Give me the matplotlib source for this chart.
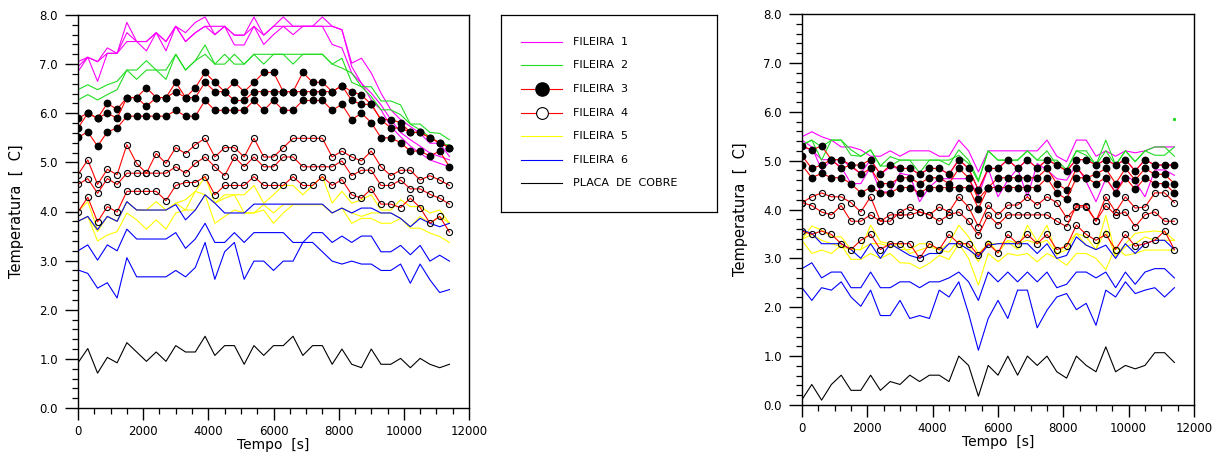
#!/usr/bin/env python3
"""Temperaturas das fileiras de tubos e da placa de cobre - dois ensaios."""

import numpy as np
import matplotlib
matplotlib.use("Agg")
import matplotlib.pyplot as plt
from matplotlib.lines import Line2D

# leituras a cada 300 s
tempo_s = np.arange(0, 11401, 300)

# ---------------- ensaio 1 (grafico da esquerda) ----------------
esq_fileira1 = [
    [7.05, 7.14, 7.05, 7.33, 7.22, 7.85, 7.46, 7.46, 7.64, 7.46, 7.77, 7.64, 7.85, 7.96, 7.60, 7.77, 7.59, 7.59, 7.96, 7.59,
     7.77, 7.96, 7.77, 7.77, 7.77, 7.96, 7.77, 7.70, 7.02, 7.12, 6.82, 6.41, 6.07, 5.87, 5.73, 5.59, 5.39, 5.39, 5.12],
    [6.85, 7.14, 6.65, 7.22, 7.22, 7.64, 7.46, 7.27, 7.64, 7.27, 7.77, 7.46, 7.64, 7.77, 7.60, 7.77, 7.39, 7.39, 7.77, 7.40,
     7.60, 7.77, 7.60, 7.77, 7.77, 7.77, 7.40, 7.33, 6.82, 6.61, 6.27, 6.07, 5.73, 5.52, 5.33, 5.19, 5.05, 4.98, 4.91],
    [6.95, 7.14, 7.05, 7.22, 7.22, 7.46, 7.46, 7.46, 7.64, 7.46, 7.77, 7.46, 7.64, 7.77, 7.77, 7.77, 7.59, 7.59, 7.77, 7.59,
     7.77, 7.77, 7.77, 7.77, 7.77, 7.77, 7.77, 7.70, 6.95, 6.61, 6.41, 6.17, 5.87, 5.61, 5.46, 5.33, 5.19, 5.12, 5.05],
]
esq_fileira2 = [
    [6.48, 6.58, 6.48, 6.58, 6.65, 6.88, 6.88, 7.07, 6.88, 6.88, 7.20, 6.88, 7.07, 7.39, 7.00, 7.20, 7.00, 7.00, 7.20, 7.20,
     7.20, 7.20, 7.20, 7.20, 7.20, 7.20, 7.00, 7.12, 6.63, 6.54, 6.54, 6.25, 6.25, 6.17, 5.78, 5.78, 5.61, 5.59, 5.46],
    [6.27, 6.38, 6.27, 6.38, 6.48, 6.88, 6.69, 6.88, 6.88, 6.69, 7.20, 6.88, 7.07, 7.20, 7.00, 7.00, 7.20, 7.00, 7.20, 7.00,
     7.20, 7.20, 7.00, 7.20, 7.20, 7.20, 7.00, 6.92, 6.82, 6.54, 6.34, 6.07, 6.07, 5.97, 5.78, 5.66, 5.52, 5.39, 5.35],
]
esq_fileira3 = [
    [5.90, 6.00, 5.90, 6.20, 6.08, 6.32, 6.32, 6.52, 6.32, 6.32, 6.63, 6.32, 6.52, 6.83, 6.63, 6.44, 6.63, 6.44, 6.63, 6.83,
     6.83, 6.44, 6.44, 6.83, 6.63, 6.63, 6.44, 6.56, 6.44, 6.37, 6.18, 5.87, 5.87, 5.81, 5.61, 5.61, 5.50, 5.40, 5.30],
    [5.70, 6.00, 5.90, 6.00, 5.90, 6.32, 6.32, 6.14, 6.32, 6.32, 6.44, 6.32, 6.32, 6.63, 6.44, 6.44, 6.26, 6.26, 6.44, 6.44,
     6.44, 6.44, 6.44, 6.44, 6.44, 6.44, 6.44, 6.56, 6.26, 6.18, 6.18, 5.87, 5.70, 5.70, 5.61, 5.61, 5.50, 5.40, 5.30],
    [5.51, 5.62, 5.33, 5.62, 5.70, 5.94, 5.94, 5.94, 5.94, 5.94, 6.06, 5.94, 5.94, 6.26, 6.06, 6.06, 6.06, 6.06, 6.26, 6.06,
     6.26, 6.06, 6.06, 6.26, 6.26, 6.26, 6.06, 6.18, 5.87, 6.00, 5.81, 5.50, 5.50, 5.40, 5.23, 5.23, 5.13, 5.23, 4.91],
]
esq_fileira4 = [
    [4.75, 5.05, 4.55, 4.86, 4.75, 5.36, 4.98, 4.78, 5.18, 4.98, 5.30, 5.18, 5.36, 5.49, 5.11, 5.30, 5.30, 5.11, 5.49, 5.11,
     5.11, 5.30, 5.49, 5.49, 5.49, 5.49, 5.11, 5.23, 5.11, 5.03, 5.23, 4.91, 4.73, 4.84, 4.84, 4.64, 4.73, 4.64, 4.53],
    [4.55, 4.67, 4.37, 4.67, 4.55, 4.78, 4.78, 4.78, 4.78, 4.78, 4.91, 4.78, 4.98, 5.11, 4.91, 4.73, 5.11, 4.91, 5.11, 4.91,
     4.91, 5.11, 5.11, 4.91, 4.91, 4.91, 4.91, 5.03, 4.73, 4.84, 4.84, 4.53, 4.53, 4.64, 4.46, 4.46, 4.35, 4.27, 4.15],
    [3.99, 4.29, 3.79, 4.10, 3.99, 4.41, 4.41, 4.41, 4.41, 4.22, 4.53, 4.59, 4.59, 4.71, 4.34, 4.53, 4.53, 4.53, 4.71, 4.53,
     4.53, 4.53, 4.71, 4.53, 4.53, 4.71, 4.53, 4.65, 4.34, 4.27, 4.46, 4.15, 4.15, 4.08, 4.27, 4.08, 3.76, 3.90, 3.58],
]
esq_fileira5 = [
    [4.00, 4.20, 3.63, 3.90, 3.80, 4.20, 4.03, 4.03, 4.20, 4.03, 4.17, 4.03, 4.41, 4.71, 4.17, 4.34, 4.34, 4.34, 4.53, 4.17,
     4.34, 4.53, 4.53, 4.34, 4.53, 4.71, 4.17, 4.41, 4.17, 4.24, 4.34, 4.03, 4.03, 4.24, 4.10, 4.10, 3.97, 4.03, 3.76],
    [3.80, 3.90, 3.59, 3.90, 3.80, 4.20, 4.03, 4.03, 4.03, 4.03, 4.17, 4.24, 4.41, 4.34, 4.17, 4.27, 4.34, 3.97, 3.97, 4.14,
     3.97, 4.14, 4.14, 4.14, 4.14, 4.14, 3.97, 4.07, 3.97, 3.90, 3.97, 3.97, 3.97, 3.86, 3.69, 3.90, 3.76, 3.90, 3.76],
    [3.80, 3.90, 3.40, 3.52, 3.59, 3.97, 3.83, 3.64, 3.83, 3.64, 3.97, 4.03, 4.03, 4.34, 3.76, 3.90, 4.03, 3.97, 3.97, 4.03,
     3.76, 3.97, 4.14, 4.14, 4.14, 4.14, 3.97, 4.07, 3.76, 3.86, 3.86, 3.76, 3.76, 3.86, 3.66, 3.66, 3.56, 3.49, 3.37],
]
esq_fileira6 = [
    [3.80, 3.90, 3.63, 3.90, 3.80, 4.20, 4.03, 4.03, 4.03, 4.03, 4.14, 3.83, 4.03, 4.34, 4.17, 3.97, 3.97, 3.97, 4.15, 4.15,
     4.15, 4.15, 4.15, 4.15, 4.15, 4.15, 3.97, 4.07, 3.97, 4.07, 4.07, 3.97, 3.97, 3.86, 3.69, 3.86, 3.76, 3.69, 3.76],
    [3.20, 3.32, 3.01, 3.32, 3.20, 3.64, 3.44, 3.44, 3.44, 3.44, 3.57, 3.25, 3.44, 3.76, 3.37, 3.37, 3.57, 3.37, 3.57, 3.57,
     3.57, 3.57, 3.37, 3.37, 3.57, 3.57, 3.37, 3.50, 3.37, 3.50, 3.50, 3.18, 3.18, 3.31, 3.12, 3.31, 2.99, 3.11, 2.99],
    [2.81, 2.74, 2.44, 2.55, 2.24, 3.06, 2.67, 2.67, 2.67, 2.67, 2.80, 2.67, 2.86, 3.37, 2.62, 3.18, 3.37, 2.62, 2.99, 2.99,
     2.80, 2.99, 2.99, 3.37, 3.37, 3.18, 2.99, 2.93, 2.99, 2.93, 2.93, 2.80, 2.80, 2.93, 2.54, 2.93, 2.61, 2.35, 2.41],
]
esq_placa = [0.92, 1.21, 0.71, 1.03, 0.92, 1.33, 1.14, 0.95, 1.14, 0.95, 1.27, 1.14, 1.14, 1.46, 1.07, 1.27, 1.27, 0.89, 1.27,
             1.07, 1.27, 1.27, 1.46, 1.07, 1.27, 1.27, 0.89, 1.20, 0.89, 0.82, 1.20, 0.89, 0.89, 1.01, 0.82, 1.01, 0.89, 0.82, 0.89]

# ---------------- ensaio 2 (grafico da direita) ----------------
dir_fileira1 = [
    [5.49, 5.59, 5.49, 5.42, 5.28, 5.28, 5.22, 5.09, 5.09, 5.20, 5.09, 5.20, 5.20, 5.20, 5.09, 5.09, 5.42, 5.20, 4.77, 5.20,
     5.20, 5.20, 5.20, 5.20, 5.20, 5.42, 5.09, 4.98, 5.42, 5.42, 5.09, 5.20, 5.09, 5.20, 5.16, 5.20, 5.28, 5.28, 5.28],
    [5.42, 5.28, 4.81, 5.01, 4.87, 4.53, 4.53, 4.87, 4.36, 4.36, 4.74, 4.70, 4.16, 4.46, 4.63, 4.63, 4.63, 4.63, 4.29, 4.84,
     4.26, 4.60, 4.84, 4.26, 4.94, 4.81, 4.63, 4.60, 4.91, 4.57, 4.16, 4.63, 4.36, 4.70, 4.57, 4.26, 4.81, 4.81, 4.70],
    [5.28, 5.22, 5.02, 5.02, 5.02, 4.87, 4.74, 5.02, 4.72, 4.87, 4.84, 4.84, 4.72, 4.84, 4.84, 4.72, 5.02, 4.84, 4.40, 4.84,
     4.84, 5.02, 4.84, 5.02, 4.84, 5.02, 4.91, 4.79, 5.02, 5.02, 4.91, 5.02, 4.91, 5.02, 4.79, 5.02, 4.91, 4.91, 4.91],
]
dir_fileira2 = [
    [5.32, 5.42, 5.01, 5.42, 5.42, 5.22, 5.09, 5.22, 4.89, 5.08, 5.01, 5.01, 4.75, 5.01, 5.01, 4.91, 5.22, 5.01, 4.60, 5.20,
     5.01, 5.01, 5.01, 5.20, 5.01, 5.20, 4.91, 4.81, 5.20, 5.20, 4.91, 5.42, 4.91, 5.20, 4.98, 5.20, 5.28, 5.28, 5.09],
    [5.32, 5.42, 5.28, 5.42, 5.42, 5.11, 5.09, 5.22, 4.89, 4.89, 5.01, 5.01, 5.01, 5.01, 5.01, 5.01, 5.11, 4.94, 4.57, 5.20,
     5.01, 5.01, 5.01, 5.20, 5.01, 5.01, 5.01, 4.81, 5.20, 5.11, 4.91, 5.20, 4.91, 5.20, 4.98, 5.20, 5.11, 5.11, 5.28],
]
dir_fileira2_ponto = (11400, 5.86)  # ponto isolado no canto
dir_fileira3 = [
    [5.30, 5.22, 5.30, 5.02, 5.02, 4.91, 4.91, 5.02, 4.72, 4.91, 4.84, 4.84, 4.72, 4.84, 4.84, 4.72, 5.02, 4.84, 4.40, 4.84,
     4.84, 5.02, 4.84, 5.02, 4.84, 5.02, 4.91, 4.79, 5.02, 5.02, 4.91, 5.02, 4.91, 5.02, 4.79, 5.02, 4.91, 4.91, 4.91],
    [5.10, 4.84, 4.91, 5.02, 4.84, 4.91, 4.72, 4.84, 4.53, 4.53, 4.65, 4.65, 4.53, 4.65, 4.65, 4.53, 4.84, 4.65, 4.21, 4.45,
     4.65, 4.65, 4.65, 4.65, 4.65, 4.84, 4.53, 4.40, 4.84, 4.65, 4.72, 4.84, 4.53, 4.84, 4.60, 4.84, 4.72, 4.72, 4.53],
    [4.91, 4.65, 4.74, 4.65, 4.65, 4.53, 4.34, 4.45, 4.34, 4.34, 4.45, 4.45, 4.34, 4.45, 4.45, 4.45, 4.45, 4.45, 4.02, 4.45,
     4.45, 4.45, 4.45, 4.45, 4.45, 4.65, 4.34, 4.21, 4.65, 4.65, 4.53, 4.65, 4.34, 4.65, 4.41, 4.65, 4.53, 4.53, 4.34],
]
dir_fileira4 = [
    [4.14, 4.26, 4.34, 4.26, 4.26, 4.14, 3.95, 4.26, 3.76, 3.76, 3.95, 4.05, 3.95, 3.89, 4.05, 3.95, 4.26, 4.05, 3.65, 4.09,
     3.89, 4.09, 4.09, 4.26, 4.09, 4.26, 4.14, 3.83, 4.05, 4.05, 3.76, 4.26, 3.95, 4.26, 4.03, 4.05, 4.34, 4.34, 4.14],
    [4.14, 4.08, 3.95, 3.89, 4.08, 3.76, 3.76, 3.89, 3.76, 3.89, 3.89, 3.89, 3.95, 3.89, 3.76, 3.89, 3.95, 3.76, 3.47, 3.89,
     3.69, 3.89, 3.89, 3.89, 3.89, 3.89, 3.76, 3.65, 4.08, 4.08, 3.76, 4.08, 3.89, 3.95, 3.65, 3.89, 3.95, 3.76, 3.76],
    [3.56, 3.49, 3.56, 3.49, 3.30, 3.18, 3.37, 3.49, 3.18, 3.30, 3.30, 3.30, 3.00, 3.30, 3.18, 3.49, 3.30, 3.30, 3.06, 3.30,
     3.11, 3.49, 3.30, 3.49, 3.30, 3.49, 3.18, 3.25, 3.68, 3.49, 3.37, 3.49, 3.18, 3.49, 3.25, 3.30, 3.37, 3.56, 3.18],
]
dir_fileira5 = [
    [3.39, 3.66, 3.58, 3.44, 3.44, 3.18, 3.18, 3.68, 3.34, 3.30, 3.18, 3.18, 3.30, 3.30, 3.18, 3.30, 3.68, 3.44, 3.10, 3.30,
     3.30, 3.34, 3.18, 3.68, 3.34, 3.68, 3.06, 3.30, 3.51, 3.27, 3.18, 3.88, 3.06, 3.30, 3.51, 3.54, 3.56, 3.54, 3.37],
    [3.39, 3.49, 3.37, 3.30, 3.24, 3.18, 3.18, 3.30, 3.30, 3.24, 3.30, 3.10, 3.17, 3.24, 3.17, 3.13, 3.37, 3.24, 2.93, 3.37,
     3.11, 3.37, 3.30, 3.37, 3.30, 3.37, 3.10, 3.17, 3.51, 3.44, 3.18, 3.58, 3.03, 3.24, 3.30, 3.44, 3.37, 3.37, 3.37],
    [3.37, 3.10, 3.17, 3.10, 3.27, 2.98, 2.98, 3.10, 3.00, 3.10, 2.91, 2.90, 2.79, 2.90, 3.06, 2.98, 3.30, 3.00, 2.45, 3.10,
     2.93, 3.10, 3.06, 3.10, 2.93, 3.10, 3.00, 2.86, 3.10, 3.10, 3.00, 2.77, 3.24, 3.06, 3.10, 3.17, 3.17, 3.17, 3.17],
]
dir_fileira6 = [
    [3.58, 3.51, 3.30, 3.30, 3.30, 3.18, 3.00, 3.30, 3.00, 3.30, 3.18, 3.06, 3.00, 3.10, 3.10, 3.30, 3.30, 3.18, 3.03, 3.27,
     3.30, 3.30, 3.30, 3.30, 3.10, 3.30, 3.00, 3.06, 3.44, 3.27, 3.18, 3.27, 3.00, 3.30, 3.10, 3.30, 3.37, 3.37, 3.18],
    [2.79, 2.91, 2.60, 2.72, 2.72, 2.40, 2.40, 2.72, 2.40, 2.40, 2.52, 2.52, 2.40, 2.52, 2.52, 2.60, 2.72, 2.52, 2.14, 2.72,
     2.52, 2.72, 2.52, 2.72, 2.52, 2.72, 2.40, 2.47, 2.72, 2.72, 2.60, 2.72, 2.40, 2.72, 2.47, 2.72, 2.79, 2.79, 2.60],
    [2.40, 2.14, 2.40, 2.35, 2.52, 2.21, 2.02, 2.35, 1.83, 1.83, 2.14, 1.77, 1.83, 1.77, 2.35, 2.21, 2.52, 1.87, 1.12, 1.77,
     2.14, 1.77, 2.35, 2.35, 1.58, 1.94, 2.21, 2.28, 1.95, 2.08, 1.63, 2.35, 2.21, 2.52, 2.28, 2.35, 2.40, 2.21, 2.40],
]
dir_placa = [0.11, 0.42, 0.10, 0.42, 0.61, 0.30, 0.30, 0.61, 0.30, 0.48, 0.42, 0.61, 0.48, 0.61, 0.61, 0.48, 1.00, 0.81, 0.18,
             0.81, 0.61, 1.00, 0.61, 1.00, 0.81, 1.00, 0.68, 0.55, 1.00, 0.81, 0.68, 1.19, 0.68, 0.81, 0.74, 0.81, 1.07, 1.07, 0.87]

legend_labels = ["FILEIRA  1", "FILEIRA  2", "FILEIRA  3", "FILEIRA  4", "FILEIRA  5", "FILEIRA  6", "PLACA  DE  COBRE"]

MAGENTA = "#ff00ff"
GREEN = "#22dd22"
RED = "#ff0000"
YELLOW = "#ffff00"
BLUE = "#0000ff"
LW = 0.8

plt.rcParams["font.family"] = ["DejaVu Sans"]


def draw_panel(ax, f1, f2, f3, f4, f5, f6, placa):
    for serie in f1:
        ax.plot(tempo_s, serie, color=MAGENTA, lw=LW)
    for serie in f2:
        ax.plot(tempo_s, serie, color=GREEN, lw=LW)
    for serie in f5:
        ax.plot(tempo_s, serie, color=YELLOW, lw=LW)
    for serie in f6:
        ax.plot(tempo_s, serie, color=BLUE, lw=LW)
    ax.plot(tempo_s, placa, color="black", lw=LW)
    for serie in f3:
        ax.plot(tempo_s, serie, color=RED, lw=LW, marker="o", ms=4.6, mfc="black", mec="black")
    for serie in f4:
        ax.plot(tempo_s, serie, color=RED, lw=LW, marker="o", ms=4.4, mfc="none", mec="black", mew=0.8)

    ax.set_xlim(0, 12000)
    ax.set_ylim(0, 8)
    ax.set_xticks(np.arange(0, 12001, 2000))
    ax.set_xticks(np.arange(0, 12001, 500), minor=True)
    ax.set_yticks(np.arange(0, 8.01, 1.0))
    ax.set_yticks(np.arange(0, 8.01, 0.2), minor=True)
    ax.yaxis.set_major_formatter(plt.FormatStrFormatter("%.1f"))
    ax.tick_params(axis="y", which="major", direction="out", length=9.5, width=1.0, labelsize=8.5, pad=5)
    ax.tick_params(axis="y", which="minor", direction="out", length=4.5, width=0.9)
    ax.tick_params(axis="x", which="major", direction="out", length=8.5, width=1.0, labelsize=8.5, pad=4)
    ax.tick_params(axis="x", which="minor", direction="out", length=4.5, width=0.9)
    for spine in ax.spines.values():
        spine.set_linewidth(1.0)
    ax.set_xlabel("Tempo  [s]", fontsize=10, labelpad=0)
    ax.set_ylabel("Temperatura  [  C]", fontsize=10.5, labelpad=11)


def draw_legend(fig):
    lax = fig.add_axes([501 / 1218, 1 - 212 / 457, 216 / 1218, 197 / 457])
    lax.set_xlim(0, 1)
    lax.set_ylim(0, 1)
    lax.set_xticks([])
    lax.set_yticks([])
    for spine in lax.spines.values():
        spine.set_linewidth(0.9)
    styles = [
        dict(color=MAGENTA),
        dict(color=GREEN),
        dict(color=RED, marker="o", ms=9.5, mfc="black", mec="black"),
        dict(color=RED, marker="o", ms=8.5, mfc="white", mec="black", mew=0.8),
        dict(color=YELLOW),
        dict(color=BLUE),
        dict(color="black"),
    ]
    rows = [0.863, 0.746, 0.624, 0.503, 0.386, 0.264, 0.147]
    for y, label, st in zip(rows, legend_labels, styles):
        lax.add_line(Line2D([0.093, 0.282], [y, y], lw=LW, markevery=[], **st))
        if "marker" in st:
            lax.add_line(Line2D([0.1875], [y], lw=0, marker=st["marker"], ms=st["ms"],
                                mfc=st["mfc"], mec=st["mec"], mew=st.get("mew", 1.0)))
        lax.text(0.333, y, label, fontsize=8, va="center", ha="left")


def main():
    fig = plt.figure(figsize=(12.18, 4.57), dpi=100)
    ax_esq = fig.add_axes([78 / 1218, 1 - 408 / 457, 391 / 1218, 393 / 457])
    ax_dir = fig.add_axes([802 / 1218, 1 - 405 / 457, 392 / 1218, 391 / 457])

    draw_panel(ax_esq, esq_fileira1, esq_fileira2, esq_fileira3, esq_fileira4,
               esq_fileira5, esq_fileira6, esq_placa)
    draw_panel(ax_dir, dir_fileira1, dir_fileira2, dir_fileira3, dir_fileira4,
               dir_fileira5, dir_fileira6, dir_placa)
    ax_dir.plot([dir_fileira2_ponto[0]], [dir_fileira2_ponto[1]], ls="none",
                marker="s", ms=1.2, color=GREEN)

    draw_legend(fig)

    fig.savefig("out.png", dpi=100)
    plt.close(fig)


if __name__ == "__main__":
    main()
